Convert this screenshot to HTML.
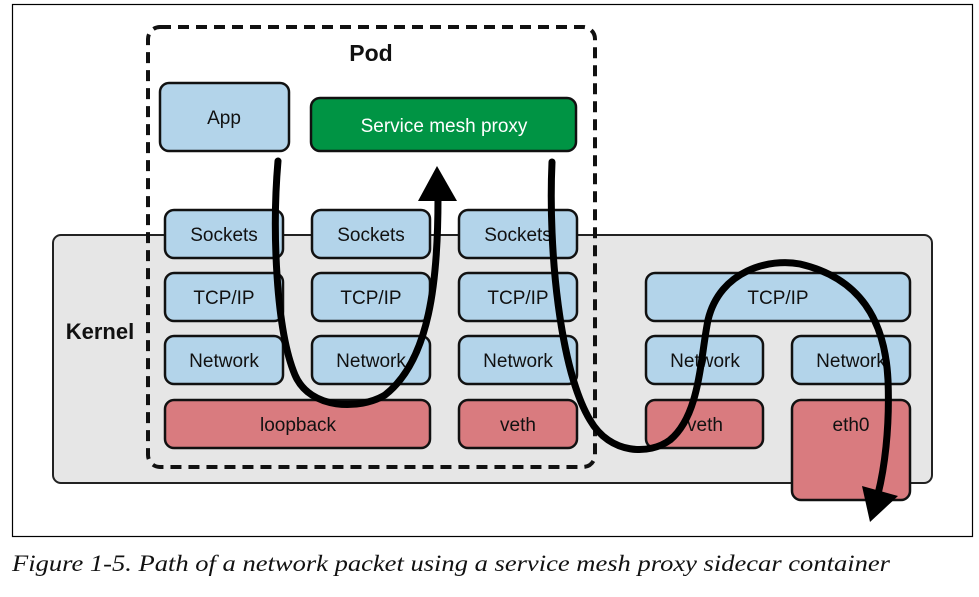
<!DOCTYPE html>
<html><head><meta charset="utf-8"><style>
html,body{margin:0;padding:0;background:#fff;}
svg{display:block}
</style></head><body>
<svg width="979" height="597" viewBox="0 0 979 597" xmlns="http://www.w3.org/2000/svg" style="font-family:'Liberation Sans',sans-serif">
<rect x="12.5" y="4.5" width="960" height="532" fill="#fff" stroke="#000" stroke-width="1.2"/>
<rect x="53" y="235" width="879" height="248" rx="8" fill="#e6e6e6" stroke="#222" stroke-width="2"/>
<text x="100" y="339" font-size="22" font-weight="bold" text-anchor="middle" fill="#111">Kernel</text>
<g stroke="#111" stroke-width="2.5">
<rect x="160" y="83" width="129" height="68" rx="9" fill="#b3d4ea"/>
<rect x="311" y="98" width="265" height="53" rx="9" fill="#009444"/>
<rect x="165" y="210" width="118" height="48" rx="9" fill="#b3d4ea"/>
<rect x="312" y="210" width="118" height="48" rx="9" fill="#b3d4ea"/>
<rect x="459" y="210" width="118" height="48" rx="9" fill="#b3d4ea"/>
<rect x="165" y="273" width="118" height="48" rx="9" fill="#b3d4ea"/>
<rect x="312" y="273" width="118" height="48" rx="9" fill="#b3d4ea"/>
<rect x="459" y="273" width="118" height="48" rx="9" fill="#b3d4ea"/>
<rect x="646" y="273" width="264" height="48" rx="9" fill="#b3d4ea"/>
<rect x="165" y="336" width="118" height="48" rx="9" fill="#b3d4ea"/>
<rect x="312" y="336" width="118" height="48" rx="9" fill="#b3d4ea"/>
<rect x="459" y="336" width="118" height="48" rx="9" fill="#b3d4ea"/>
<rect x="646" y="336" width="117" height="48" rx="9" fill="#b3d4ea"/>
<rect x="792" y="336" width="118" height="48" rx="9" fill="#b3d4ea"/>
<rect x="165" y="400" width="265" height="48" rx="9" fill="#d97b7f"/>
<rect x="459" y="400" width="118" height="48" rx="9" fill="#d97b7f"/>
<rect x="646" y="400" width="117" height="48" rx="9" fill="#d97b7f"/>
<rect x="792" y="400" width="118" height="100" rx="9" fill="#d97b7f"/>
</g>
<rect x="148" y="27" width="447" height="440" rx="12" fill="none" stroke="#111" stroke-width="4" stroke-dasharray="11 7"/>
<g font-size="19" text-anchor="middle" fill="#111">
<text x="371" y="61" font-size="23" font-weight="bold">Pod</text>
<text x="224" y="124">App</text>
<text x="444" y="132" fill="#fff">Service mesh proxy</text>
<text x="224" y="241">Sockets</text><text x="371" y="241">Sockets</text><text x="518" y="241">Sockets</text>
<text x="224" y="304">TCP/IP</text><text x="371" y="304">TCP/IP</text><text x="518" y="304">TCP/IP</text><text x="778" y="304">TCP/IP</text>
<text x="224" y="367">Network</text><text x="371" y="367">Network</text><text x="518" y="367">Network</text><text x="705" y="367">Network</text><text x="851" y="367">Network</text>
<text x="298" y="431">loopback</text><text x="518" y="431">veth</text><text x="705" y="431">veth</text><text x="851" y="431">eth0</text>
</g>
<g fill="none" stroke="#000" stroke-width="7" stroke-linecap="round">
<path d="M278 161 C272 230 276 330 295 375 C310 410 360 410 385 395 C430 360 438 280 438 198"/>
<path d="M552 162 C548 250 560 370 590 420 C610 455 650 455 670 440 C700 415 700 360 708 320 C720 270 770 258 800 264 C860 278 885 320 888 380 C890 430 884 470 878 494"/>
</g>
<polygon points="437,166 418,201 457,201" fill="#000"/>
<polygon points="870,522 862,486 898,496" fill="#000"/>
<text x="12" y="571" style="font-family:'Liberation Serif',serif;font-style:italic" font-size="23" textLength="878" lengthAdjust="spacingAndGlyphs" fill="#111">Figure 1-5. Path of a network packet using a service mesh proxy sidecar container</text>
</svg>
</body></html>
